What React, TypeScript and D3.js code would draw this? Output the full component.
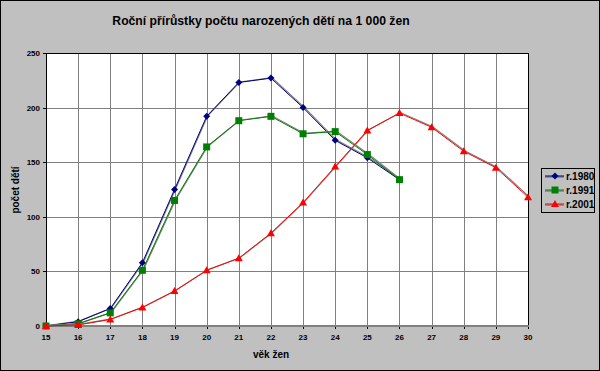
import * as d3 from 'd3'

const ages = [15, 16, 17, 18, 19, 20, 21, 22, 23, 24, 25, 26, 27, 28, 29, 30]
const r1980 = [0, 4, 16, 58, 125, 192, 223, 227, 200, 170, 154, 134]
const r1991 = [0, 2, 12, 51, 115, 164, 188, 192, 176, 178, 157, 134]
const r2001 = [0, 1, 6, 17, 32, 51, 62, 85, 113, 146, 179, 195, 182, 160, 145, 118]
const yTicks = [0, 50, 100, 150, 200, 250]
const seriesNames = ['r.1980', 'r.1991', 'r.2001']
const seriesColors = ['#000080', '#008000', '#FF0000']
const seriesMarkers = ['diamond', 'square', 'triangle']

const W = 600
const H = 371
const plot = { left: 46, right: 528, top: 53, bottom: 326 }
const font = 'Liberation Sans, Arial, sans-serif'

function Marker({ kind, x, y, color }: { kind: string; x: number; y: number; color: string }) {
  if (kind === 'diamond') {
    const s = 3.5
    return <path d={`M${x},${y - s}L${x + s},${y}L${x},${y + s}L${x - s},${y}Z`} fill={color} />
  }
  if (kind === 'square') {
    return <rect x={x - 3.5} y={y - 3.5} width={7} height={7} fill={color} />
  }
  return <path d={`M${x},${y - 4}L${x + 4},${y + 3}L${x - 4},${y + 3}Z`} fill={color} />
}

export default function App() {
  const x = d3.scaleLinear().domain([15, 30]).range([plot.left, plot.right])
  const y = d3.scaleLinear().domain([0, 250]).range([plot.bottom, plot.top])

  const series = [r1980, r1991, r2001].map((vals, i) => ({
    name: seriesNames[i],
    color: seriesColors[i],
    marker: seriesMarkers[i],
    points: vals.map((v, j) => [ages[j], v] as [number, number]),
  }))

  const line = d3.line<[number, number]>().x(d => x(d[0])).y(d => y(d[1]))
  const shadow = d3.line<[number, number]>().x(d => x(d[0]) + 1).y(d => y(d[1]) - 0.5)

  return (
    <svg width={W} height={H} style={{ position: 'absolute', left: 0, top: 0 }} fontFamily={font}>
      <rect x={0.5} y={0.5} width={W - 1} height={H - 1} fill="#C0C0C0" stroke="#000" />
      <text x={261} y={25} textAnchor="middle" fontSize={12.2} fontWeight="bold">
        Roční přírůstky počtu narozených dětí na 1 000 žen
      </text>

      <rect x={plot.left} y={plot.top} width={plot.right - plot.left} height={plot.bottom - plot.top} fill="#fff" />
      {/* grid */}
      <g stroke="#808080" strokeWidth={1}>
        {ages.slice(1, -1).map(a => (
          <line key={a} x1={Math.round(x(a)) + 0.5} x2={Math.round(x(a)) + 0.5} y1={plot.top} y2={plot.bottom} />
        ))}
        {yTicks.slice(1, -1).map(t => (
          <line key={t} x1={plot.left} x2={plot.right} y1={Math.round(y(t)) + 0.5} y2={Math.round(y(t)) + 0.5} />
        ))}
      </g>
      <rect x={plot.left + 0.5} y={plot.top + 0.5} width={plot.right - plot.left} height={plot.bottom - plot.top} fill="none" stroke="#000" />

      {/* axes ticks */}
      <g stroke="#000">
        {yTicks.map(t => (
          <line key={t} x1={plot.left - 3} x2={plot.left} y1={Math.round(y(t)) + 0.5} y2={Math.round(y(t)) + 0.5} />
        ))}
        {ages.map(a => (
          <line key={a} x1={Math.round(x(a)) + 0.5} x2={Math.round(x(a)) + 0.5} y1={plot.bottom} y2={plot.bottom + 3} />
        ))}
      </g>
      <line x1={plot.left} x2={plot.right + 1} y1={plot.bottom} y2={plot.bottom} stroke="#808080" strokeWidth={2} />

      <g fontSize={8} fontWeight="bold" fill="#000">
        {yTicks.map(t => (
          <text key={t} x={plot.left - 6} y={y(t) + 3} textAnchor="end">{t}</text>
        ))}
        {ages.map(a => (
          <text key={a} x={x(a)} y={340} textAnchor="middle">{a}</text>
        ))}
      </g>

      <text x={271} y={358} textAnchor="middle" fontSize={10} fontWeight="bold">věk žen</text>
      <text transform="translate(19,190) rotate(-90)" textAnchor="middle" fontSize={10} fontWeight="bold">počet dětí</text>

      {/* series */}
      {series.map(s => (
        <g key={s.name}>
          <path d={shadow(s.points) ?? ''} fill="none" stroke="#808080" strokeWidth={1.2} />
          <path d={line(s.points) ?? ''} fill="none" stroke={s.color} strokeWidth={1} />
          {s.points.map(p => (
            <Marker key={p[0]} kind={s.marker} x={x(p[0])} y={y(p[1])} color={s.color} />
          ))}
        </g>
      ))}

      {/* legend */}
      <rect x={541.5} y={168.5} width={53} height={44} fill="#C0C0C0" stroke="#000" />
      {series.map((s, i) => {
        const ly = 176 + i * 14
        return (
          <g key={s.name}>
            <line x1={545} x2={564} y1={ly + 1} y2={ly + 1} stroke="#808080" strokeWidth={1.5} />
            <line x1={545} x2={564} y1={ly} y2={ly} stroke={s.color} />
            <Marker kind={s.marker} x={555} y={ly} color={s.color} />
            <text x={566} y={ly + 4} fontSize={10} fontWeight="bold">{s.name}</text>
          </g>
        )
      })}
    </svg>
  )
}
